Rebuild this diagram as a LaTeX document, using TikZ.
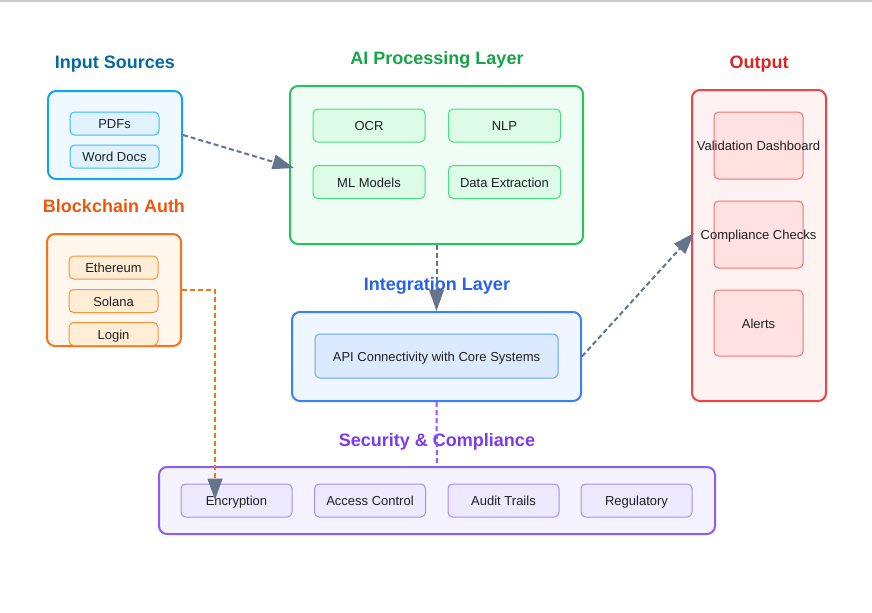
\documentclass[tikz,border=0pt]{standalone}
\usepackage{fontspec}
\setmainfont{Liberation Sans}
\usetikzlibrary{arrows.meta}
\definecolor{slate}{HTML}{64748B}
\definecolor{txt}{HTML}{1F1F1F}
\definecolor{inS}{HTML}{0EA5E9}\definecolor{inF}{HTML}{F0F9FF}\definecolor{inIF}{HTML}{E0F2FE}\definecolor{inIS}{HTML}{38BDF8}\definecolor{inT}{HTML}{0369A1}
\definecolor{bcS}{HTML}{F97316}\definecolor{bcF}{HTML}{FFF7ED}\definecolor{bcIF}{HTML}{FFEDD5}\definecolor{bcIS}{HTML}{FB923C}\definecolor{bcT}{HTML}{EA580C}
\definecolor{aiS}{HTML}{22C55E}\definecolor{aiF}{HTML}{F0FDF4}\definecolor{aiIF}{HTML}{DCFCE7}\definecolor{aiIS}{HTML}{4ADE80}\definecolor{aiT}{HTML}{16A34A}
\definecolor{itS}{HTML}{3B82F6}\definecolor{itF}{HTML}{EFF6FF}\definecolor{itIF}{HTML}{DBEAFE}\definecolor{itIS}{HTML}{60A5FA}\definecolor{itT}{HTML}{2563EB}
\definecolor{ouS}{HTML}{EF4444}\definecolor{ouF}{HTML}{FEF2F2}\definecolor{ouIF}{HTML}{FEE2E2}\definecolor{ouIS}{HTML}{F87171}\definecolor{ouT}{HTML}{DC2626}
\definecolor{seS}{HTML}{8B5CF6}\definecolor{seF}{HTML}{F5F3FF}\definecolor{seIF}{HTML}{EDE9FE}\definecolor{seIS}{HTML}{A78BFA}\definecolor{seT}{HTML}{7C3AED}
\tikzset{
  sz/.style 2 args={minimum width={#1*0.75pt}, minimum height={#2*0.75pt}},
  outer/.style 2 args={draw=#1, fill=#2, line width=1.5pt, rounded corners=6pt, inner sep=0pt},
  inner/.style 2 args={draw=#1, fill=#2, line width=0.75pt, rounded corners=3.5pt, inner sep=0pt, text=txt, font=\fontsize{9.75}{12}\selectfont, text height=8pt, text depth=0pt},
  title/.style={font=\fontsize{13.5}{16}\selectfont\bfseries, text=#1, inner sep=0pt, anchor=base},
  lbl/.style={text=txt, font=\fontsize{9.75}{12}\selectfont, inner sep=0pt, text height=8pt, text depth=0pt},
  flow/.style={draw=slate, line width=1.5pt, dash pattern=on 3.75pt off 2.25pt, -{Triangle[length=16pt,width=11pt,color=slate]}},
}
\begin{document}
\begin{tikzpicture}[x=0.75pt,y=-0.75pt]
\useasboundingbox (0,0) rectangle (872,612);
\fill[white] (0,0) rectangle (872,612);
\draw[draw={rgb,255:red,204;green,204;blue,204}, line width=1.5pt] (0,1) -- (872,1);

% Input Sources
\node[title=inT] (tin) at (115,68) {Input Sources};
\node[outer={inS}{inF}, sz={134}{88}] (inp) at (115,135) {};
\node[inner={inIS}{inIF}, sz={89}{23}] (pdf) at (114.5,123.5) {PDFs};
\node[inner={inIS}{inIF}, sz={89}{23}] (word) at (114.5,156.5) {Word Docs};

% Blockchain Auth
\node[title=bcT] (tbc) at (114,212) {Blockchain Auth};
\node[outer={bcS}{bcF}, sz={134}{112}] (bc) at (114,290) {};
\node[inner={bcIS}{bcIF}, sz={89}{23}] (eth) at (113.5,267.5) {Ethereum};
\node[inner={bcIS}{bcIF}, sz={89}{23}] (sol) at (113.5,301) {Solana};
\node[inner={bcIS}{bcIF}, sz={89}{23}] (login) at (113.5,334) {Login};

% AI Processing Layer
\node[title=aiT] (tai) at (437,64) {AI Processing Layer};
\node[outer={aiS}{aiF}, sz={293}{158}] (ai) at (436.5,165) {};
\node[inner={aiIS}{aiIF}, sz={112}{33}] (ocr) at (369,125.5) {OCR};
\node[inner={aiIS}{aiIF}, sz={112}{33}] (nlp) at (504.5,125.5) {NLP};
\node[inner={aiIS}{aiIF}, sz={112}{33}] (ml) at (369,182) {ML Models};
\node[inner={aiIS}{aiIF}, sz={112}{33}] (dx) at (504.5,182) {Data Extraction};

% Integration Layer
\node[title=itT] (tit) at (437,290) {Integration Layer};
\node[outer={itS}{itF}, sz={289}{89}] (integ) at (436.5,356.5) {};
\node[inner={itIS}{itIF}, sz={243}{44}] (api) at (436.5,356) {API Connectivity with Core Systems};

% Output
\node[title=ouT] (tou) at (759,68) {Output};
\node[outer={ouS}{ouF}, sz={134}{311}] (out) at (759,245.5) {};
\node[inner={ouIS}{ouIF}, sz={89}{67}] (vd) at (758.5,145.5) {};
\node[inner={ouIS}{ouIF}, sz={89}{67}] (cc) at (758.5,234.5) {};
\node[inner={ouIS}{ouIF}, sz={89}{66}] (al) at (758.5,323) {};
\node[lbl] (vdt) at (vd) {Validation Dashboard};
\node[lbl] (cct) at (cc) {Compliance Checks};
\node[lbl] (alt) at (al) {Alerts};

% Security & Compliance
\node[title=seT] (tse) at (437,446) {Security \& Compliance};
\node[outer={seS}{seF}, sz={556}{67}] (sec) at (437,500.5) {};
\node[inner={seIS}{seIF}, sz={111}{33}] (enc) at (236.5,500.5) {Encryption};
\node[inner={seIS}{seIF}, sz={111}{33}] (acc) at (370,500.5) {Access Control};
\node[inner={seIS}{seIF}, sz={111}{33}] (aud) at (503.5,500.5) {Audit Trails};
\node[inner={seIS}{seIF}, sz={111}{33}] (reg) at (636.5,500.5) {Regulatory};

% Connectors
\coordinate (aitip) at (294,168);
\coordinate (outtip) at (694,233);
\coordinate (bend) at (215,290);
\coordinate (enctip) at (215,500);
\draw[flow] (inp.east) -- (aitip);
\draw[flow] (ai.south) -- (integ.north);
\draw[flow] (integ.east) -- (outtip);
\draw[flow, draw=bcS] (bc.east) -- (bend) -- (enctip);
\draw[draw=seS, line width=1.5pt, dash pattern=on 3.75pt off 2.25pt] (integ.south) -- (sec.north);
\end{tikzpicture}
\end{document}
